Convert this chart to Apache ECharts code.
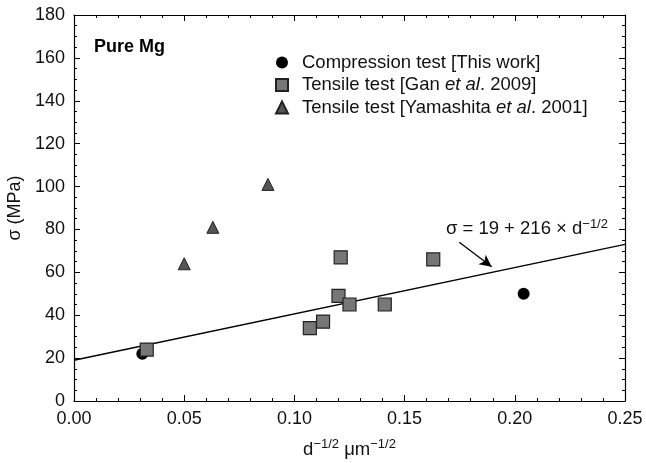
<!DOCTYPE html>
<html>
<head>
<meta charset="utf-8">
<script src="https://cdn.jsdelivr.net/npm/echarts@6/dist/echarts.min.js"></script>
<style>html,body{margin:0;padding:0;background:#fff}#c{width:646px;height:463px}</style>
</head>
<body>
<div id="c"></div>
<script>
// Data: [d^-1/2, sigma]
var compression = [[0.031, 22], [0.204, 50]];
var tensileGan = [[0.033, 24], [0.107, 34], [0.113, 37], [0.120, 49], [0.121, 67], [0.125, 45], [0.141, 45], [0.163, 66]];
var tensileYamashita = [[0.050, 64], [0.063, 81], [0.088, 101]];
var fitLine = [[0, 19], [0.25, 73]];
var arrowStart = [0.1748, 74];
var arrowEnd = [0.1895, 62.6];
var eqAnchor = [0.2055, 80.2];
var xTicks = [0, 0.05, 0.10, 0.15, 0.20, 0.25];
var yTicks = [0, 20, 40, 60, 80, 100, 120, 140, 160, 180];

var FONT = '"Liberation Sans", Arial, Helvetica, sans-serif';
var chart = echarts.init(document.getElementById('c'), null, {renderer: 'canvas'});

function axisCommon(extra) {
  var base = {
    axisLine: {show: true, onZero: false, lineStyle: {color: '#000', width: 1.2}},
    axisTick: {show: true, inside: true, length: 6, lineStyle: {color: '#000', width: 1}},
    minorTick: {show: true, length: 3, lineStyle: {color: '#000', width: 1}},
    splitLine: {show: false},
    axisLabel: {show: true, color: '#111', fontFamily: FONT, fontSize: 18, margin: 9}
  };
  for (var k in extra) base[k] = extra[k];
  return base;
}

var option = {
  animation: false,
  backgroundColor: '#fff',
  textStyle: {fontFamily: FONT},
  grid: {left: 74, right: 21, top: 15, bottom: 62, containLabel: false, outerBoundsMode: 'none'},
  xAxis: [
    axisCommon({type: 'value', min: xTicks[0], max: xTicks[xTicks.length - 1], interval: 0.05,
      minorTick: {show: true, splitNumber: 5, length: 3, lineStyle: {color: '#000'}},
      axisLabel: {show: true, color: '#111', fontFamily: FONT, fontSize: 18, margin: 9,
        formatter: function (v) { return v.toFixed(2); }},
      name: '{b|d}{s|−1/2}{b| μm}{s|−1/2}', nameLocation: 'middle', nameGap: 37,
      nameTextStyle: {rich: {
        b: {fontFamily: FONT, fontSize: 18.5, color: '#111'},
        s: {fontFamily: FONT, fontSize: 13, color: '#111', padding: [0, 0, 10, 0]}
      }}
    }),
    axisCommon({type: 'value', position: 'top', min: 0, max: 0.25, interval: 0.05,
      minorTick: {show: true, splitNumber: 5, length: 3, lineStyle: {color: '#000'}},
      axisLabel: {show: false}})
  ],
  yAxis: [
    axisCommon({type: 'value', min: yTicks[0], max: yTicks[yTicks.length - 1], interval: 20,
      minorTick: {show: true, splitNumber: 4, length: 3, lineStyle: {color: '#000'}},
      name: 'σ (MPa)', nameLocation: 'middle', nameGap: 46, nameRotate: 90,
      nameTextStyle: {fontFamily: FONT, fontSize: 18, color: '#111'}
    }),
    axisCommon({type: 'value', position: 'right', min: 0, max: 180, interval: 20,
      minorTick: {show: true, splitNumber: 4, length: 3, lineStyle: {color: '#000'}},
      axisLabel: {show: false}})
  ],
  legend: {
    orient: 'vertical', left: 270, top: 48, itemWidth: 12, itemHeight: 12, itemGap: 3.5,
    data: [
      {name: 'Compression test [This work]', icon: 'circle'},
      {name: 'Tensile test [Gan et al. 2009]', icon: 'rect'},
      {name: 'Tensile test [Yamashita et al. 2001]', icon: 'triangle'}
    ],
    formatter: function (n) {
      return n.split(/(et al)/).map(function (p) {
        if (p === 'et al') return '{i|et al}';
        return p ? '{n|' + p + '}' : '';
      }).join('');
    },
    textStyle: {fontFamily: FONT, fontSize: 18.5, color: '#111', padding: [0, 0, 0, 9],
      rich: {
        n: {fontFamily: FONT, fontSize: 18.5, color: '#111'},
        i: {fontFamily: FONT, fontSize: 18.5, color: '#111', fontStyle: 'italic'}
      }}
  },
  graphic: [
    {type: 'text', left: 94, top: 38, style: {text: 'Pure Mg', font: 'bold 18px ' + FONT, fill: '#000'}}
  ],
  series: [
    {
      name: 'fit', type: 'line', data: fitLine, symbol: 'none', silent: true,
      lineStyle: {color: '#000', width: 1.3}, z: 1,
      markLine: {
        silent: true, symbol: ['none', 'arrow'], symbolSize: [9, 12],
        lineStyle: {color: '#000', width: 1.3, type: 'solid'},
        label: {show: false},
        data: [[{coord: arrowStart}, {coord: arrowEnd}]]
      },
      markPoint: {
        silent: true, symbol: 'circle', symbolSize: 0,
        data: [{coord: eqAnchor, value: 0}],
        label: {show: true, position: 'inside',
          formatter: '{b|σ = 19 + 216 × d}{s|−1/2}',
          rich: {
            b: {fontFamily: FONT, fontSize: 18.5, color: '#111'},
            s: {fontFamily: FONT, fontSize: 13, color: '#111', padding: [0, 0, 10, 0]}
          }}
      }
    },
    {
      name: 'Compression test [This work]', type: 'scatter', data: compression,
      symbol: 'circle', symbolSize: 12, z: 3,
      itemStyle: {color: '#000', borderColor: '#000', borderWidth: 0, opacity: 1}
    },
    {
      name: 'Tensile test [Gan et al. 2009]', type: 'scatter', data: tensileGan,
      symbol: 'rect', symbolSize: 13, z: 4,
      itemStyle: {color: '#777', borderColor: '#222', borderWidth: 1.2, opacity: 1}
    },
    {
      name: 'Tensile test [Yamashita et al. 2001]', type: 'scatter', data: tensileYamashita,
      symbol: 'triangle', symbolSize: 12, z: 4,
      itemStyle: {color: '#555', borderColor: '#222', borderWidth: 1, opacity: 1}
    }
  ]
};
chart.setOption(option);
</script>
</body>
</html>
